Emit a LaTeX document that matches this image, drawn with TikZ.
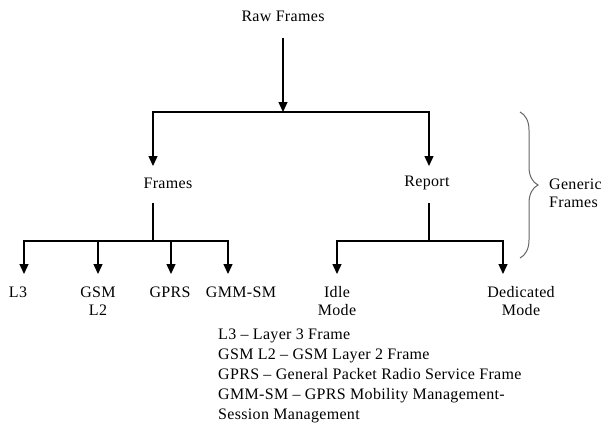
\documentclass[tikz,border=0pt]{standalone}
\usepackage{fontspec}
\setmainfont{Liberation Serif}[LetterSpace=2]
\usetikzlibrary{arrows.meta,decorations.pathreplacing}
\begin{document}
\begin{tikzpicture}[x=1pt,y=-1pt,
  lbl/.style={inner sep=0pt,font=\fontsize{16}{18}\selectfont,align=center},
  ln/.style={line width=1.3pt},
  arr/.style={line width=1.3pt,-{Triangle[length=10pt,width=9pt]}}]
\useasboundingbox (0,0) rectangle (610,437);
% nodes
\node[lbl] (raw) at (283,16) {Raw Frames};
\node[lbl] (frames) at (168,183) {Frames};
\node[lbl] (report) at (427,183) {Report};
\node[lbl] (l3) at (18,292) {L3};
\node[lbl] (gsm) at (98,301) {GSM\\L2};
\node[lbl] (gprs) at (170,292) {GPRS};
\node[lbl] (gmm) at (241,292) {GMM-SM};
\node[lbl] (idle) at (337,301) {Idle\\Mode};
\node[lbl] (ded) at (521,301) {Dedicated\\Mode};
\node[lbl,align=left,anchor=west] (gen) at (549,193) {Generic\\Frames};
\node[inner sep=0pt,anchor=north west,align=left,font=\fontsize{16}{19.9}\selectfont] (legend) at (218,329)
 {L3 – Layer 3 Frame\\GSM L2 – GSM Layer 2 Frame\\GPRS – General Packet Radio Service Frame\\GMM-SM – GPRS Mobility Management-\\Session Management};
% coordinates
\coordinate (rawout) at (283,38);
\coordinate (j1) at (283,112);
\coordinate (fin) at (153,166);
\coordinate (rin) at (429,166);
\coordinate (fout) at (153,203);
\coordinate (fj) at (153,241);
\coordinate (rout) at (429,203);
\coordinate (rj) at (429,241);
\coordinate (a1) at (24,274);
\coordinate (a2) at (98,274);
\coordinate (a3) at (171,274);
\coordinate (a4) at (228,274);
\coordinate (b1) at (337,274);
\coordinate (b2) at (503,274);
\coordinate (bt) at (520,112);
\coordinate (bb) at (520,258);
% connectors
\draw[arr] (rawout) -- (j1);
\draw[arr] (j1) -| (fin);
\draw[arr] (j1) -| (rin);
\draw[ln] (fout) -- (fj);
\draw[arr] (fj) -| (a1);
\draw[arr] (fj) -| (a2);
\draw[arr] (fj) -| (a3);
\draw[arr] (fj) -| (a4);
\draw[ln] (rout) -- (rj);
\draw[arr] (rj) -| (b1);
\draw[arr] (rj) -| (b2);
\draw[gray!80!black,line width=1pt,decorate,decoration={brace,amplitude=18pt}] (bt) -- (bb);
\end{tikzpicture}
\end{document}
